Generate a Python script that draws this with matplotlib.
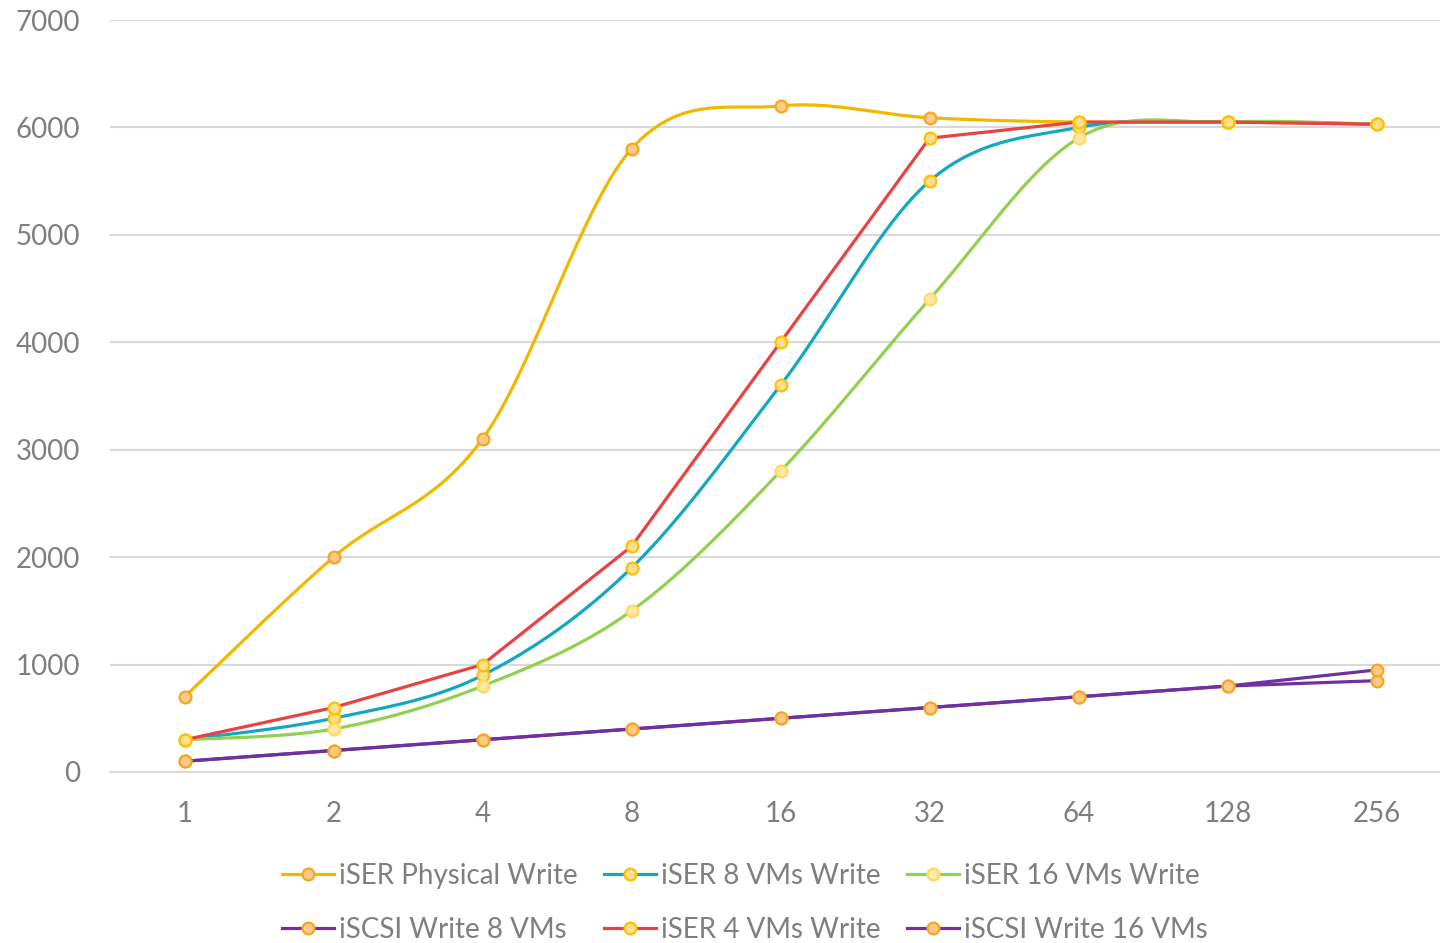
import numpy as np
import matplotlib
matplotlib.use("Agg")
import matplotlib.pyplot as plt
from matplotlib.lines import Line2D

plt.rcParams["font.family"] = ["Lato", "DejaVu Sans"]

QUEUE_DEPTH = ["1", "2", "4", "8", "16", "32", "64", "128", "256"]

iser_physical = [700, 2000, 3100, 5800, 6200, 6090, 6050, 6050, 6030]
iser_8vm = [300, 500, 900, 1900, 3600, 5500, 6000, 6050, 6030]
iser_16vm = [300, 400, 800, 1500, 2800, 4400, 5900, 6050, 6030]
iscsi_8vm = [100, 200, 300, 400, 500, 600, 700, 800, 850]
iser_4vm = [300, 600, 1000, 2100, 4000, 5900, 6050, 6050, 6030]
iscsi_16vm = [100, 200, 300, 400, 500, 600, 700, 800, 950]

GRID = "#d9d9d9"
TXT = "#7f7f7f"


def smooth(x, y, n=30):
    # Catmull-Rom style smoothing, like Excel's "smoothed line"
    x = np.asarray(x, float); y = np.asarray(y, float)
    px = np.r_[x[0], x, x[-1]]; py = np.r_[y[0], y, y[-1]]
    xs, ys = [], []
    for i in range(1, len(px) - 2):
        p0, p1, p2, p3 = [np.array([px[j], py[j]]) for j in (i - 1, i, i + 1, i + 2)]
        c1 = p1 + (p2 - p0) / 6
        c2 = p2 - (p3 - p1) / 6
        t = np.linspace(0, 1, n)[:, None]
        b = (1 - t) ** 3 * p1 + 3 * (1 - t) ** 2 * t * c1 + 3 * (1 - t) * t ** 2 * c2 + t ** 3 * p2
        xs.append(b[:, 0]); ys.append(b[:, 1])
    return np.concatenate(xs), np.concatenate(ys)


series = [
    # label, values, line colour, marker face, marker edge, smoothed
    ("iSER Physical Write", iser_physical, "#F2B800", "#FFCA85", "#F5A623", True),
    ("iSER 8 VMs Write", iser_8vm, "#12A9C0", "#FFE08A", "#FFC000", True),
    ("iSER 16 VMs Write", iser_16vm, "#92D050", "#FFE9A0", "#FFD966", True),
    ("iSCSI Write 8 VMs", iscsi_8vm, "#7030A0", "#FFCA85", "#F5A623", False),
    ("iSER 4 VMs Write", iser_4vm, "#E84343", "#FFE08A", "#FFC000", False),
    ("iSCSI Write 16 VMs", iscsi_16vm, "#7030A0", "#FFCA85", "#F5A623", False),
]

fig = plt.figure(figsize=(14.4, 9.43), dpi=100)
ax = fig.add_axes([110 / 1440, 171 / 943, 1341 / 1440, 752 / 943])
xpos = np.arange(len(QUEUE_DEPTH))

handles = {}
for label, vals, col, mfc, mec, sm in series:
    if sm:
        sx, sy = smooth(xpos, vals)
    else:
        sx, sy = xpos, np.asarray(vals, float)
    ax.plot(sx, sy, color=col, lw=2.3, zorder=3, solid_capstyle="round")
    ax.plot(xpos, vals, ls="none", marker="o", ms=8.5, mfc=mfc, mec=mec, mew=1.6, zorder=4)
    handles[label] = Line2D([], [], color=col, lw=2.3, marker="o", ms=8.5,
                            mfc=mfc, mec=mec, mew=1.6)

ax.set_xlim(-0.5, 8.5)
ax.set_ylim(0, 7000)
ax.set_yticks(range(0, 7001, 1000))
ax.set_xticks(xpos)
ax.set_xticklabels(QUEUE_DEPTH)
ax.grid(axis="y", color=GRID, lw=1.5)
ax.set_axisbelow(True)
for s in ["top", "right", "left"]:
    ax.spines[s].set_visible(False)
ax.spines["bottom"].set_color(GRID)
ax.spines["bottom"].set_linewidth(1.5)
ax.tick_params(length=0, labelsize=20, colors=TXT)
ax.tick_params(axis="y", pad=21.5)
ax.tick_params(axis="x", pad=21)

order = ["iSER Physical Write", "iSCSI Write 8 VMs", "iSER 8 VMs Write",
         "iSER 4 VMs Write", "iSER 16 VMs Write", "iSCSI Write 16 VMs"]
leg = fig.legend([handles[k] for k in order], order, ncol=3, loc="center",
                 bbox_to_anchor=(745 / 1440, 1 - 903 / 943), frameon=False,
                 fontsize=20, labelcolor=TXT, handlelength=1.85, handletextpad=0.2,
                 columnspacing=0.95, labelspacing=1.0)

fig.savefig("out.png", dpi=100)
